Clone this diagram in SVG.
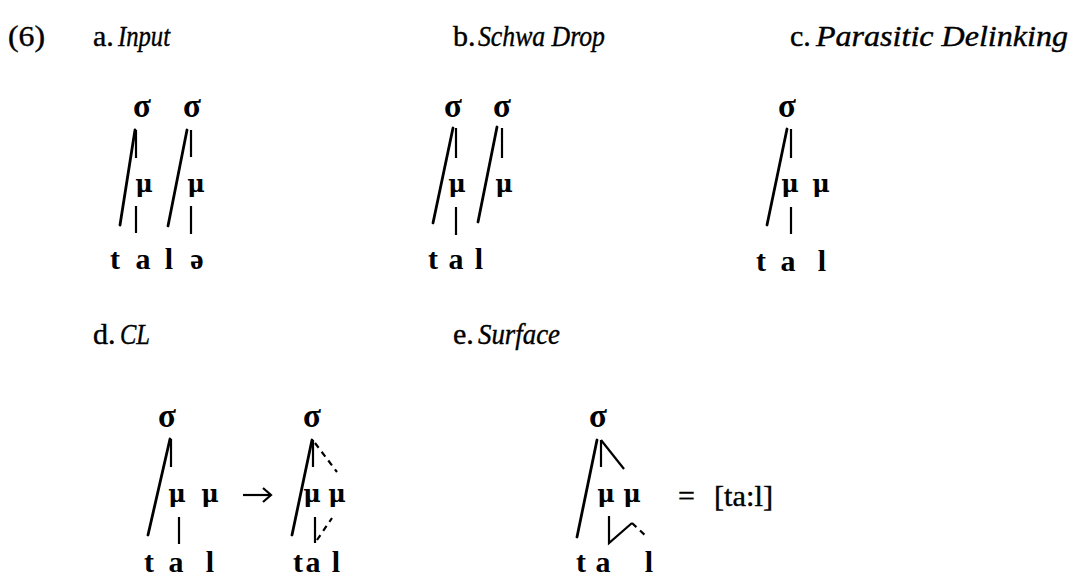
<svg xmlns="http://www.w3.org/2000/svg" width="1072" height="576" viewBox="0 0 1072 576">
<style>
.lbl{font-family:"Liberation Serif",serif;font-size:30px;fill:#000;stroke:#000;stroke-width:0.4}
.it{font-style:italic}
.g{font-family:"Liberation Serif",serif;font-size:33px;font-weight:bold;fill:#000;text-anchor:middle}
.m{font-family:"DejaVu Serif",serif;font-size:24px;font-weight:bold;fill:#000;text-anchor:middle}
.s{font-family:"Liberation Serif",serif;font-size:30px;font-weight:bold;fill:#000;text-anchor:middle}
.ln{stroke:#000;stroke-width:2.8;fill:none;stroke-linecap:round}
.vl{stroke:#000;stroke-width:2.2;fill:none}
.dl{stroke:#000;stroke-width:2.2;fill:none;stroke-dasharray:6 5}
</style>
<g id="labels">
<text class="lbl" x="8" y="46" stroke-width="0.9" textLength="37" lengthAdjust="spacingAndGlyphs">(6)</text>
<text class="lbl" x="93" y="46">a.</text><text class="lbl it" x="118" y="46" textLength="52" lengthAdjust="spacingAndGlyphs">Input</text>
<text class="lbl" x="453" y="46">b.</text><text class="lbl it" x="478" y="46" textLength="127" lengthAdjust="spacingAndGlyphs">Schwa Drop</text>
<text class="lbl" x="790" y="46">c.</text><text class="lbl it" x="816" y="46" textLength="252" lengthAdjust="spacingAndGlyphs">Parasitic Delinking</text>
<text class="lbl" x="93" y="344">d.</text><text class="lbl it" x="120" y="344" textLength="30" lengthAdjust="spacingAndGlyphs">CL</text>
<text class="lbl" x="453" y="344">e.</text><text class="lbl it" x="478" y="344" textLength="82" lengthAdjust="spacingAndGlyphs">Surface</text>
</g>
<g id="node-a">
<text class="g" x="142" y="117">σ</text><text class="g" x="192" y="117">σ</text>
<text class="m" x="144" y="192">μ</text><text class="m" x="196" y="192">μ</text>
<text class="s" x="115" y="269">t</text><text class="s" x="143" y="269">a</text><text class="s" x="169" y="269">l</text><text class="s" x="197" y="269">ə</text>
</g>
<g id="node-b">
<text class="g" x="453" y="117">σ</text><text class="g" x="502" y="117">σ</text>
<text class="m" x="457" y="192">μ</text><text class="m" x="504" y="192">μ</text>
<text class="s" x="433" y="269">t</text><text class="s" x="456" y="269">a</text><text class="s" x="479" y="269">l</text>
</g>
<g id="node-c">
<text class="g" x="787" y="117">σ</text>
<text class="m" x="790" y="192">μ</text><text class="m" x="821" y="192">μ</text>
<text class="s" x="761" y="271">t</text><text class="s" x="788" y="271">a</text><text class="s" x="822" y="271">l</text>
</g>
<g id="node-d">
<text class="g" x="167" y="427">σ</text>
<text class="m" x="177" y="502">μ</text><text class="m" x="210" y="502">μ</text>
<text class="s" x="149" y="572">t</text><text class="s" x="176" y="572">a</text><text class="s" x="210" y="572">l</text>
<text class="g" x="312" y="427">σ</text>
<text class="m" x="312" y="502">μ</text><text class="m" x="337" y="502">μ</text>
<text class="s" x="298" y="572">t</text><text class="s" x="313" y="572">a</text><text class="s" x="336" y="572">l</text>
</g>
<g id="node-e">
<text class="g" x="598" y="427">σ</text>
<text class="m" x="606" y="502">μ</text><text class="m" x="632" y="502">μ</text>
<text class="s" x="581" y="572">t</text><text class="s" x="603" y="572">a</text><text class="s" x="649" y="572">l</text>
<text class="lbl" x="678" y="506">=</text>
<text class="lbl" x="714" y="506" textLength="59" lengthAdjust="spacingAndGlyphs">[ta:l]</text>
</g>
<g id="connectors">
<line class="ln" x1="135" y1="130" x2="120" y2="225"/>
<line class="vl" x1="136" y1="130" x2="136" y2="158"/>
<line class="vl" x1="136" y1="206" x2="136" y2="233"/>
<line class="ln" x1="187" y1="130" x2="168" y2="226"/>
<line class="vl" x1="191" y1="130" x2="191" y2="157"/>
<line class="vl" x1="191" y1="206" x2="191" y2="234"/>
<line class="ln" x1="453" y1="128" x2="433" y2="223"/>
<line class="vl" x1="456" y1="128" x2="456" y2="158"/>
<line class="vl" x1="456" y1="207" x2="456" y2="235"/>
<line class="ln" x1="497" y1="127" x2="478" y2="222"/>
<line class="vl" x1="502" y1="128" x2="502" y2="158"/>
<line class="ln" x1="787" y1="129" x2="767" y2="225"/>
<line class="vl" x1="791" y1="129" x2="791" y2="158"/>
<line class="vl" x1="791" y1="207" x2="791" y2="234"/>
<line class="ln" x1="170" y1="439" x2="148" y2="535"/>
<line class="vl" x1="171" y1="439" x2="171" y2="467"/>
<line class="vl" x1="179" y1="517" x2="179" y2="544"/>
<line class="vl" x1="243" y1="495" x2="271" y2="495" stroke-width="2.6"/>
<path class="vl" d="M263,488 L271,495 L263,502" stroke-width="2.6"/>
<line class="ln" x1="312" y1="440" x2="292" y2="535"/>
<line class="vl" x1="313" y1="440" x2="313" y2="467"/>
<line class="dl" x1="315" y1="443" x2="337" y2="472"/>
<line class="vl" x1="315" y1="517" x2="315" y2="543"/>
<line class="dl" x1="317" y1="540" x2="332" y2="518"/>
<line class="ln" x1="597" y1="440" x2="577" y2="537"/>
<line class="vl" x1="601" y1="440" x2="601" y2="467"/>
<line class="vl" x1="601" y1="440" x2="624" y2="469"/>
<polyline class="vl" points="609,516 609,543 632,523"/>
<line class="dl" x1="632" y1="523" x2="648" y2="538"/>
</g>
</svg>
